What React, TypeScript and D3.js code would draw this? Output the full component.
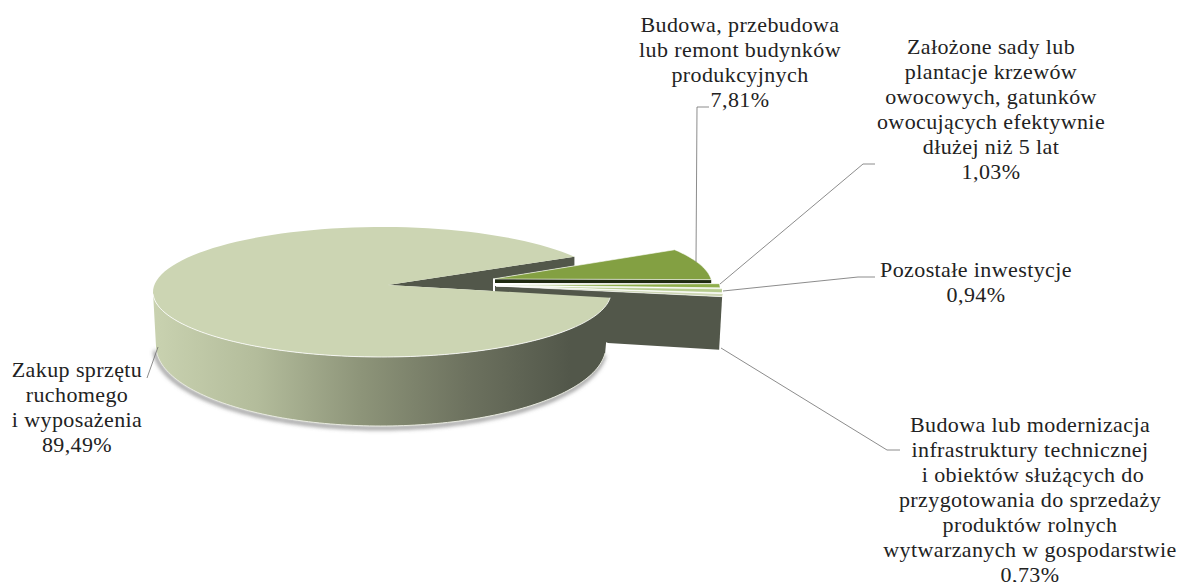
import React from "react";
import * as d3 from "d3";

const shares = [89.49, 7.81, 1.03, 0.94, 0.73];
const pieStart = 95;
const sideColours = ["#c9d2b0", "#b3bc9b", "#8d9479", "#6d725f", "#52574a"];
const labels: { lines: string[]; x: number; y: number }[] = [
  { lines: ["Zakup sprzętu", "ruchomego", "i wyposażenia", "89,49%"], x: 77, y: 377 },
  { lines: ["Budowa, przebudowa", "lub remont budynków", "produkcyjnych", "7,81%"], x: 740, y: 32 },
  { lines: ["Założone sady lub", "plantacje krzewów", "owocowych, gatunków", "owocujących efektywnie", "dłużej niż 5 lat", "1,03%"], x: 991, y: 54 },
  { lines: ["Pozostałe inwestycje", "0,94%"], x: 976, y: 277 },
  { lines: ["Budowa lub modernizacja", "infrastruktury technicznej", " i obiektów służących do", "przygotowania do sprzedaży", "produktów rolnych", "wytwarzanych w gospodarstwie", "0,73%"], x: 1030, y: 432 },
];
const leaders = [
  [[147, 378], [158, 347]],
  [[709, 107], [697, 107], [696, 262]],
  [[875, 164], [863, 164], [720, 284]],
  [[875, 277], [858, 277], [723, 291]],
  [[900, 450], [887, 450], [721, 348]],
];

const rad = (d: number) => (d * Math.PI) / 180;
const pie = d3.pie<number>().sort(null).startAngle(rad(pieStart)).endAngle(rad(pieStart + 360));
const arcs = pie(shares);

type E = { cx: number; cy: number; rx: number; ry: number };
const rim = (e: E, a: number): [number, number] => [e.cx + e.rx * Math.sin(a), e.cy - e.ry * Math.cos(a)];
const sweep = (e: E, a0: number, a1: number) => d3.range(0, 121).map((i) => rim(e, a0 + ((a1 - a0) * i) / 120));
const line = d3.line();

const top: E = { cx: 382, cy: 292, rx: 229, ry: 65 };
const bottom: E = { cx: 381, cy: 346, rx: 225, ry: 80 };
const main = arcs[0];

const mainApex: [number, number] = [388, 285];
const mainTop = "M" + mainApex + "L" + sweep(top, main.startAngle, main.endAngle).join("L") + "Z";
const frontA0 = main.startAngle;
const frontA1 = rad(268);
const frontRim = sweep(top, frontA0, frontA1);
const frontBase = sweep(bottom, frontA1, frontA0);
const mainFront = "M" + frontRim.join("L") + "L" + frontBase.join("L") + "Z";
const baseLine = line(sweep(bottom, frontA1, frontA0)) as string;
const endPoint = rim(top, main.endAngle);
const innerFace = line([mainApex, endPoint, [endPoint[0], endPoint[1] + 9], [493, 279], [493, 291]]) + "Z";

const exploded: { e: E; apex: [number, number]; fill: string }[] = [
  { e: { cx: 478, cy: 285, rx: 234, ry: 65 }, apex: [493, 279], fill: "#83a042" },
  { e: { cx: 491, cy: 289, rx: 229, ry: 65 }, apex: [495, 285], fill: "#8fae4b" },
  { e: { cx: 492, cy: 290, rx: 230, ry: 65 }, apex: [496, 286], fill: "#b5cb8c" },
  { e: { cx: 493, cy: 291, rx: 230, ry: 65 }, apex: [496, 286], fill: "#ccd5b3" },
];

export default function App() {
  const last = exploded[3];
  const lastArc = arcs[4];
  const wallEnd = rim(last.e, lastArc.endAngle);
  const wall = line([[495, 286], wallEnd, [wallEnd[0] - 3, wallEnd[1] + 53], [608, 343], [495, 292]]) + "Z";
  const g = exploded[0];
  const gEnd = rim(g.e, arcs[1].endAngle);
  const greenFace = line([[495, 279], gEnd, [gEnd[0], gEnd[1] + 3.5], [495, 283]]) + "Z";
  return (
    <svg width={1179} height={582} style={{ position: "absolute", left: 0, top: 0 }}
      fontFamily="'Liberation Serif', serif" fontSize={22} letterSpacing={0.4} fill="#222">
      <defs>
        <linearGradient id="side" gradientUnits="userSpaceOnUse" x1={153} x2={570} y1={0} y2={0}>
          {sideColours.map((c, i) => (
            <stop key={c} offset={i / (sideColours.length - 1)} stopColor={c} />
          ))}
        </linearGradient>
        <filter id="blur" x="-10%" y="-20%" width="120%" height="140%">
          <feGaussianBlur stdDeviation={2} />
        </filter>
      </defs>
      <path d={baseLine} fill="none" stroke="#777" strokeWidth={3} filter="url(#blur)" transform="translate(-1,2)" />
      <path d={wall} fill="#52574a" />
      <path d={innerFace} fill="#52574a" />
      <path d={greenFace} fill="#1f2a10" />
      <path d={line([[494, 279], [494, 291]]) as string} stroke="#fff" strokeWidth={2} fill="none" />
      {exploded.map((s, i) => {
        const a = arcs[i + 1];
        const d = "M" + s.apex + "L" + sweep(s.e, a.startAngle, a.endAngle).join("L") + "Z";
        return <path key={s.fill} d={d} fill={s.fill} stroke="#fff" strokeWidth={0.6} />;
      })}
      <path d={mainFront} fill="url(#side)" />
      <path d={baseLine} fill="none" stroke="#e8eadf" strokeWidth={1} />
      <path d={mainTop} fill="#ccd5b3" />
      <path d={line(frontRim) as string} fill="none" stroke="#fff" strokeWidth={1} opacity={0.8} />
      {leaders.map((p, i) => (
        <path key={i} d={line(p as [number, number][]) as string} fill="none" stroke="#6e6e6e" strokeWidth={0.8} />
      ))}
      {labels.map((l) =>
        l.lines.map((t, i) => (
          <text key={t} x={l.x} y={l.y + i * 25} textAnchor="middle" xmlSpace="preserve">{t}</text>
        ))
      )}
    </svg>
  );
}
